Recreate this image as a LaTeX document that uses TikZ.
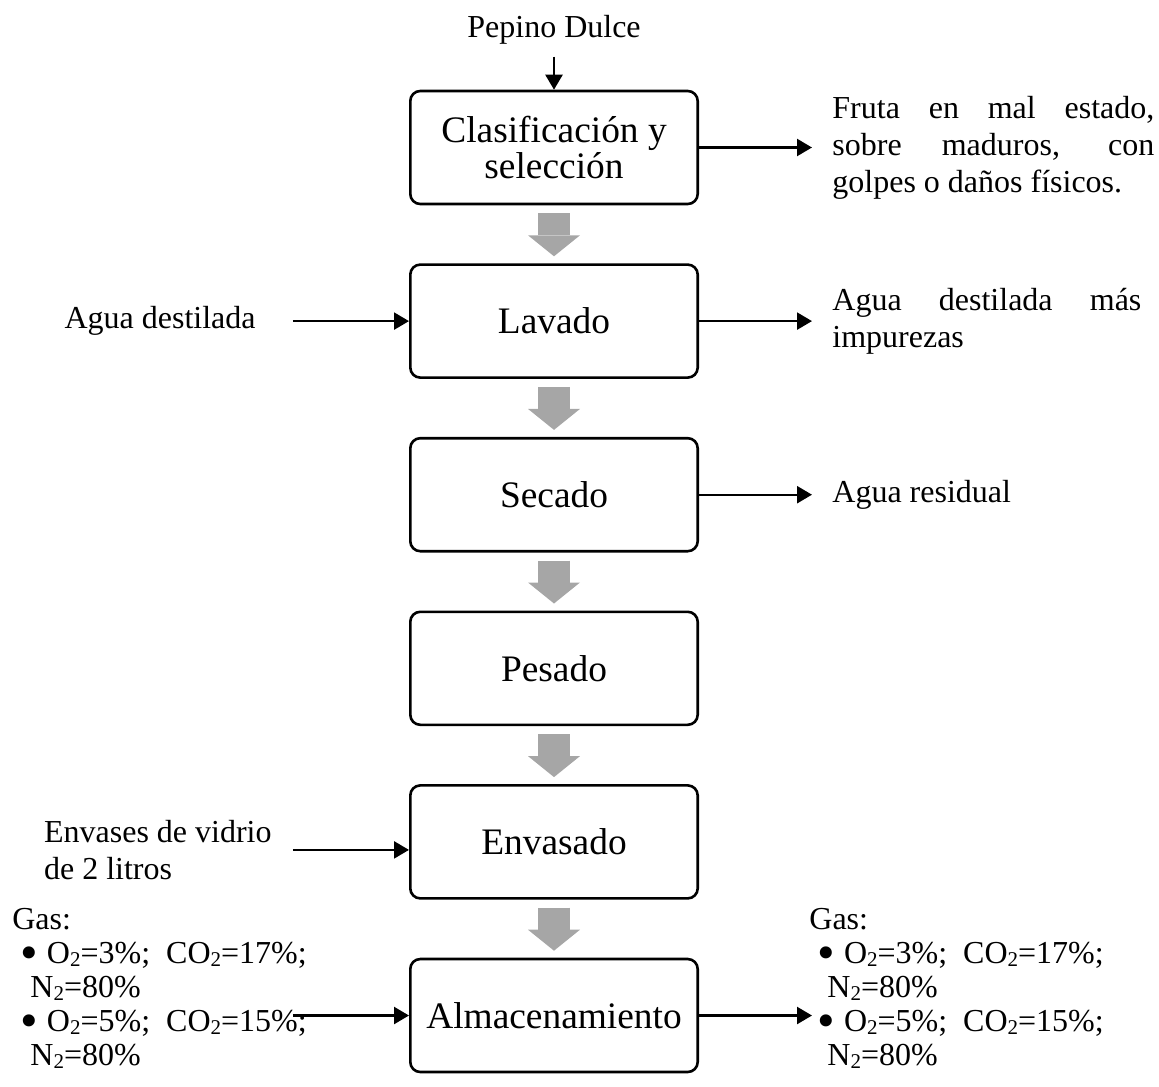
\documentclass[tikz,border=0pt]{standalone}
\usepackage{fontspec}
\usepackage{graphicx}
\setmainfont{Liberation Serif}
\usetikzlibrary{arrows.meta, positioning}
\hyphenpenalty=10000

\newcommand{\gsub}[1]{\raisebox{-1.5pt}{\fontsize{10.5}{10}\selectfont #1}}
\newcommand{\gbul}{\smash{\raisebox{-3pt}{\scalebox{1.57}{\textbullet}}}}
\newcommand{\gasmix}{Gas:\\
\hspace*{4pt}\gbul\hspace{4.5pt}O\gsub{2}=3\%;\hspace{8pt}CO\gsub{2}=17\%;\\
\hspace*{9pt}N\gsub{2}=80\%\\
\hspace*{4pt}\gbul\hspace{4.5pt}O\gsub{2}=5\%;\hspace{8pt}CO\gsub{2}=15\%;\\
\hspace*{9pt}N\gsub{2}=80\%}

\begin{document}
\begin{tikzpicture}[
    node distance=29pt,
    every node/.style={font=\fontsize{16}{18.5}\selectfont, inner sep=0pt},
    stepbox/.style={rectangle, draw, line width=1.3pt, rounded corners=5pt, minimum width=143.7pt, minimum height=56.5pt, inner sep=3pt, align=center, font=\fontsize{18.7}{18}\selectfont},
    sidetxt/.style={align=left},
    outtxt/.style={text width=#1, align=justify},
    gastxt/.style={align=left, font=\fontsize{16}{17}\selectfont},
    flow/.style={draw=gray!70, line width=16pt, -{Triangle[length=10.5pt, width=26pt, line width=0pt]}, shorten <=4pt, shorten >=3.5pt},
    arr/.style={line width=1.2pt, -{Triangle[length=7.5pt, width=8.5pt]}}
]
    \useasboundingbox (-277pt,73.75pt) rectangle (302.5pt,-469.25pt);

    % Process steps
    \node[stepbox] (clasif) {Clasificación y\\selección};
    \node[stepbox, below=of clasif] (lavado) {Lavado};
    \node[stepbox, below=of lavado] (secado) {Secado};
    \node[stepbox, below=of secado] (pesado) {Pesado};
    \node[stepbox, below=of pesado] (envasado) {Envasado};
    \node[stepbox, below=of envasado] (almac) {Almacenamiento};

    % Raw material
    \node[above=22.5pt of clasif] (pepino) {Pepino Dulce};

    % Inputs
    \coordinate[left=58pt of lavado.west] (inlav);
    \node[left=18.5pt of inlav] (agua) {Agua destilada};
    \coordinate[left=58pt of envasado.west, yshift=-4pt] (inenv);
    \node[sidetxt, left=10.5pt of inenv] (envases) {Envases de vidrio\\de 2 litros};
    \coordinate[left=58pt of almac.west] (inalm);
    \node[gastxt, anchor=west] (gasin) at ([shift={(-140.5pt,13.5pt)}]inalm) {\gasmix};

    % Outputs
    \coordinate[right=56.5pt of clasif.east] (outcla);
    \node[outtxt=161pt, right=10pt of outcla] (fruta) {Fruta en mal estado, sobre maduros, con golpes o daños físicos.};
    \coordinate[right=56.5pt of lavado.east] (outlav);
    \node[outtxt=154.5pt, right=10pt of outlav] (aguaimp) {Agua destilada más impurezas};
    \coordinate[right=56.5pt of secado.east] (outsec);
    \node[right=10pt of outsec] (residual) {Agua residual};
    \coordinate[right=56.5pt of almac.east] (outalm);
    \node[gastxt, right=-1.5pt of outalm, yshift=13.5pt] (gasout) {\gasmix};

    % Main flow
    \draw[arr, shorten <=6pt] (pepino) -- (clasif);
    \draw[flow] (clasif) -- (lavado);
    \draw[flow] (lavado) -- (secado);
    \draw[flow] (secado) -- (pesado);
    \draw[flow] (pesado) -- (envasado);
    \draw[flow] (envasado) -- (almac);

    % Side arrows
    \draw[arr] (inlav) -- (lavado);
    \draw[arr] (inenv) -- (inenv -| envasado.west);
    \draw[arr] (inalm) -- (almac);
    \draw[arr] (clasif) -- (outcla);
    \draw[arr] (lavado) -- (outlav);
    \draw[arr] (secado) -- (outsec);
    \draw[arr] (almac) -- (outalm);
\end{tikzpicture}
\end{document}
